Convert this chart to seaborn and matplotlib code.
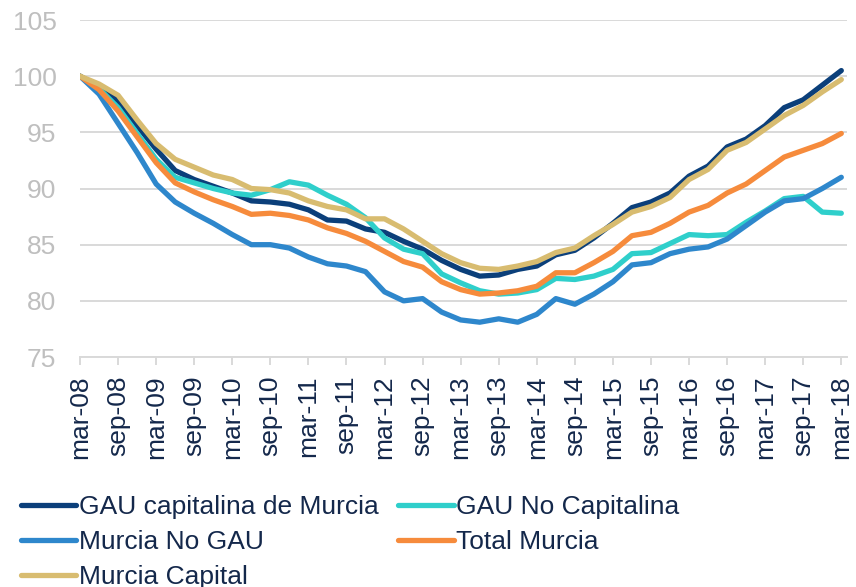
import pandas as pd
import numpy as np
import matplotlib
matplotlib.use("Agg")
from matplotlib import pyplot as plt
import seaborn as sns

# trimestres mar-08 .. mar-18 (indice 100 = mar-08)
trimestres = ['mar-08', 'jun-08', 'sep-08', 'dic-08', 'mar-09', 'jun-09', 'sep-09', 'dic-09',
              'mar-10', 'jun-10', 'sep-10', 'dic-10', 'mar-11', 'jun-11', 'sep-11', 'dic-11',
              'mar-12', 'jun-12', 'sep-12', 'dic-12', 'mar-13', 'jun-13', 'sep-13', 'dic-13',
              'mar-14', 'jun-14', 'sep-14', 'dic-14', 'mar-15', 'jun-15', 'sep-15', 'dic-15',
              'mar-16', 'jun-16', 'sep-16', 'dic-16', 'mar-17', 'jun-17', 'sep-17', 'dic-17',
              'mar-18']
etiquetas_x = ['mar-08', 'sep-08', 'mar-09', 'sep-09', 'mar-10', 'sep-10', 'mar-11', 'sep-11',
               'mar-12', 'sep-12', 'mar-13', 'sep-13', 'mar-14', 'sep-14', 'mar-15', 'sep-15',
               'mar-16', 'sep-16', 'mar-17', 'sep-17', 'mar-18']

gau_capitalina = [100, 99.0, 97.8, 95.6, 93.5, 91.6, 90.8, 90.2, 89.6, 88.9, 88.8, 88.6, 88.1,
                  87.2, 87.1, 86.4, 86.1, 85.3, 84.6, 83.6, 82.8, 82.2, 82.3, 82.8, 83.1, 84.1,
                  84.5, 85.6, 86.9, 88.3, 88.8, 89.6, 91.1, 92.0, 93.7, 94.4, 95.6, 97.2, 97.9,
                  99.2, 100.5]
gau_no_capitalina = [100, 98.9, 97.2, 94.9, 92.6, 91.0, 90.5, 90.0, 89.6, 89.4, 89.9, 90.6, 90.3,
                     89.4, 88.6, 87.4, 85.6, 84.6, 84.2, 82.4, 81.6, 80.9, 80.6, 80.7, 81.0, 82.0,
                     81.9, 82.2, 82.8, 84.2, 84.3, 85.1, 85.9, 85.8, 85.9, 87.0, 88.0, 89.1, 89.3,
                     87.9, 87.8]
murcia_no_gau = [100, 98.4, 95.8, 93.2, 90.4, 88.8, 87.8, 86.9, 85.9, 85.0, 85.0, 84.7, 83.9,
                 83.3, 83.1, 82.6, 80.8, 80.0, 80.2, 79.0, 78.3, 78.1, 78.4, 78.1, 78.8, 80.2,
                 79.7, 80.6, 81.7, 83.2, 83.4, 84.2, 84.6, 84.8, 85.5, 86.7, 87.9, 88.9, 89.1,
                 90.0, 91.0]
total_murcia = [100, 98.8, 96.9, 94.6, 92.3, 90.5, 89.7, 89.0, 88.4, 87.7, 87.8, 87.6, 87.2,
                86.5, 86.0, 85.3, 84.4, 83.5, 83.0, 81.7, 81.0, 80.6, 80.7, 80.9, 81.3, 82.5,
                82.5, 83.4, 84.4, 85.8, 86.1, 86.9, 87.9, 88.5, 89.6, 90.4, 91.6, 92.8, 93.4,
                94.0, 94.9]
murcia_capital = [100, 99.3, 98.3, 96.1, 94.0, 92.6, 91.9, 91.2, 90.8, 90.0, 89.9, 89.6, 88.9,
                  88.4, 88.1, 87.3, 87.3, 86.4, 85.3, 84.2, 83.4, 82.9, 82.8, 83.1, 83.5, 84.3,
                  84.7, 85.8, 86.8, 87.9, 88.4, 89.2, 90.8, 91.7, 93.4, 94.1, 95.3, 96.5, 97.4,
                  98.6, 99.7]

series = {
    'GAU capitalina de Murcia': gau_capitalina,
    'GAU No Capitalina': gau_no_capitalina,
    'Murcia No GAU': murcia_no_gau,
    'Total Murcia': total_murcia,
    'Murcia Capital': murcia_capital,
}
colores = {
    'GAU capitalina de Murcia': '#0B3F7A',
    'GAU No Capitalina': '#2FCFCB',
    'Murcia No GAU': '#2E87CC',
    'Total Murcia': '#F68B3C',
    'Murcia Capital': '#D8BC70',
}

filas = []
for nombre, valores in series.items():
    for i, v in enumerate(valores):
        filas.append({'pos': i, 'trimestre': trimestres[i], 'serie': nombre, 'indice': v})
df = pd.DataFrame(filas)

sns.set_theme(style='white')
plt.rcParams['font.family'] = ['Liberation Sans', 'DejaVu Sans']

fig = plt.figure(figsize=(8.56, 5.87), dpi=100)
ax = fig.add_axes([0.0935, 0.3918, 0.8960, 0.5741])

lw = 3.8
sns.lineplot(data=df, x='pos', y='indice', hue='serie', hue_order=list(series.keys()),
             palette=colores, linewidth=lw, ax=ax, legend=False,
             solid_capstyle='round', solid_joinstyle='round')

ax.set_xlim(0, 40.3)
ax.set_ylim(75, 105)
ax.set_yticks(range(75, 106, 5))
ax.set_xticks(range(0, 41, 2))
ax.set_xticklabels(etiquetas_x, rotation=90)
ax.set_xlabel('')
ax.set_ylabel('')

gris = '#D9D9D9'
ax.grid(axis='y', color=gris, linewidth=1.4)
ax.grid(axis='x', visible=False)
for lado in ['top', 'right', 'left']:
    ax.spines[lado].set_visible(False)
ax.spines['bottom'].set_color(gris)
ax.spines['bottom'].set_linewidth(1.4)
ax.tick_params(axis='x', bottom=True, length=5.5, width=1.4, color=gris, pad=8,
               labelsize=19, labelcolor='#14284B')
ax.tick_params(axis='y', left=False, pad=11, labelsize=19, labelcolor='#BFBFBF')

orden = ['GAU capitalina de Murcia', 'Murcia No GAU', 'Murcia Capital',
         'GAU No Capitalina', 'Total Murcia']
handles = [plt.Line2D([], [], color=colores[n], linewidth=lw, solid_capstyle='round') for n in orden]
leg = fig.legend(handles, orden, loc='upper left', bbox_to_anchor=(0.024, 0.157), ncol=2,
                 frameon=False, fontsize=19, handlelength=2.1, handletextpad=0.1,
                 columnspacing=0.75, labelspacing=0.42, borderpad=0, borderaxespad=0)
for t in leg.get_texts():
    t.set_color('#14284B')

fig.savefig('out.png', dpi=100)
